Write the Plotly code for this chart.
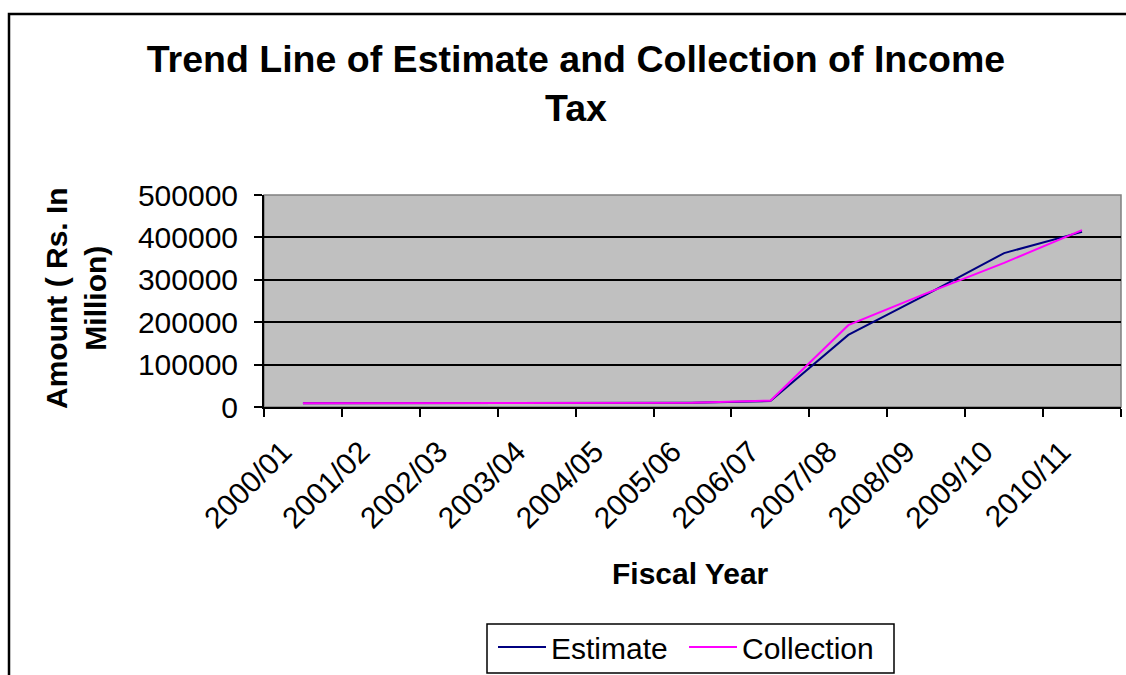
import plotly.graph_objects as go

years = ["2000/01", "2001/02", "2002/03", "2003/04", "2004/05", "2005/06",
         "2006/07", "2007/08", "2008/09", "2009/10", "2010/11"]
estimate = [9000, 9200, 9300, 9500, 9600, 9800, 14000, 170000, 265000, 363000, 413000]
collection = [9100, 9300, 9400, 9500, 9700, 9900, 15000, 193000, 268000, 340000, 417000]

FONT = "Arial, Liberation Sans, sans-serif"

W, H = 1126, 675
L, R, T, B = 264, 5, 195, 268
pw = W - L - R
ph = H - T - B

def px(x):
    return (x - L) / pw

def py(y):
    return (H - B - y) / ph

fig = go.Figure()
fig.add_trace(go.Scatter(x=years, y=estimate, mode="lines", name="Estimate",
                         line=dict(color="#000080", width=2)))
fig.add_trace(go.Scatter(x=years, y=collection, mode="lines", name="Collection",
                         line=dict(color="#FF00FF", width=2)))

fig.update_layout(
    width=W, height=H,
    margin=dict(l=L, r=R, t=T, b=B, autoexpand=False),
    paper_bgcolor="white",
    plot_bgcolor="#C0C0C0",
    font=dict(family=FONT, color="black"),
    title=dict(text="<b>Trend Line of Estimate and Collection of Income<br>Tax</b>",
               x=576 / W, xanchor="center", y=1 - 72 / H, yanchor="middle",
               font=dict(size=37.5, family=FONT, color="black")),
    showlegend=True,
    legend=dict(orientation="h", xref="container", yref="container",
                x=493 / W, xanchor="left", y=1 - 621 / H, yanchor="top",
                borderwidth=0, bgcolor="rgba(0,0,0,0)",
                font=dict(size=30, family=FONT, color="black"),
                itemwidth=48, entrywidth=128, tracegroupgap=0),
    xaxis=dict(type="category", tickson="boundaries", ticks="outside", ticklen=8,
               tickwidth=2, tickcolor="black", showline=True, linecolor="black",
               linewidth=2, showgrid=False, tickangle=-45, automargin=False,
               ticklabelstandoff=13, ticklabelshift=-20,
               tickfont=dict(size=30, family=FONT, color="black"),
               range=[-0.5, 10.5]),
    yaxis=dict(range=[0, 500000], dtick=100000, ticks="outside", ticklen=8,
               tickwidth=2, tickcolor="black", showline=True, linecolor="black",
               linewidth=2, showgrid=True, gridcolor="black", gridwidth=1.5,
               zeroline=False, tickformat="d", automargin=False,
               ticklabelstandoff=10,
               tickfont=dict(size=30, family=FONT, color="black")),
    annotations=[
        dict(text="<b>Fiscal Year</b>", xref="paper", yref="paper",
             x=px(690), y=py(573), xanchor="center", yanchor="middle",
             showarrow=False, font=dict(size=30, family=FONT, color="black")),
        dict(text="<b>Amount ( Rs. In<br>Million)</b>", xref="paper", yref="paper",
             x=px(76), y=py(298), xanchor="center", yanchor="middle", textangle=-90,
             showarrow=False, font=dict(size=30, family=FONT, color="black")),
    ],
    shapes=[
        dict(type="rect", xref="paper", yref="paper", x0=px(9), x1=px(1140),
             y0=py(690), y1=py(14), line=dict(color="black", width=2.5), layer="below"),
        dict(type="rect", xref="paper", yref="paper", x0=0, x1=1, y0=0, y1=1,
             line=dict(color="#808080", width=1.5), layer="below"),
        dict(type="rect", xref="paper", yref="paper", x0=px(487), x1=px(894),
             y0=py(673), y1=py(624), line=dict(color="black", width=1.5),
             fillcolor="white", layer="below"),
    ],
)

fig.write_html("out.html", config={"displayModeBar": False},
               post_script="document.body.style.margin='0';document.body.style.overflow='hidden';")
